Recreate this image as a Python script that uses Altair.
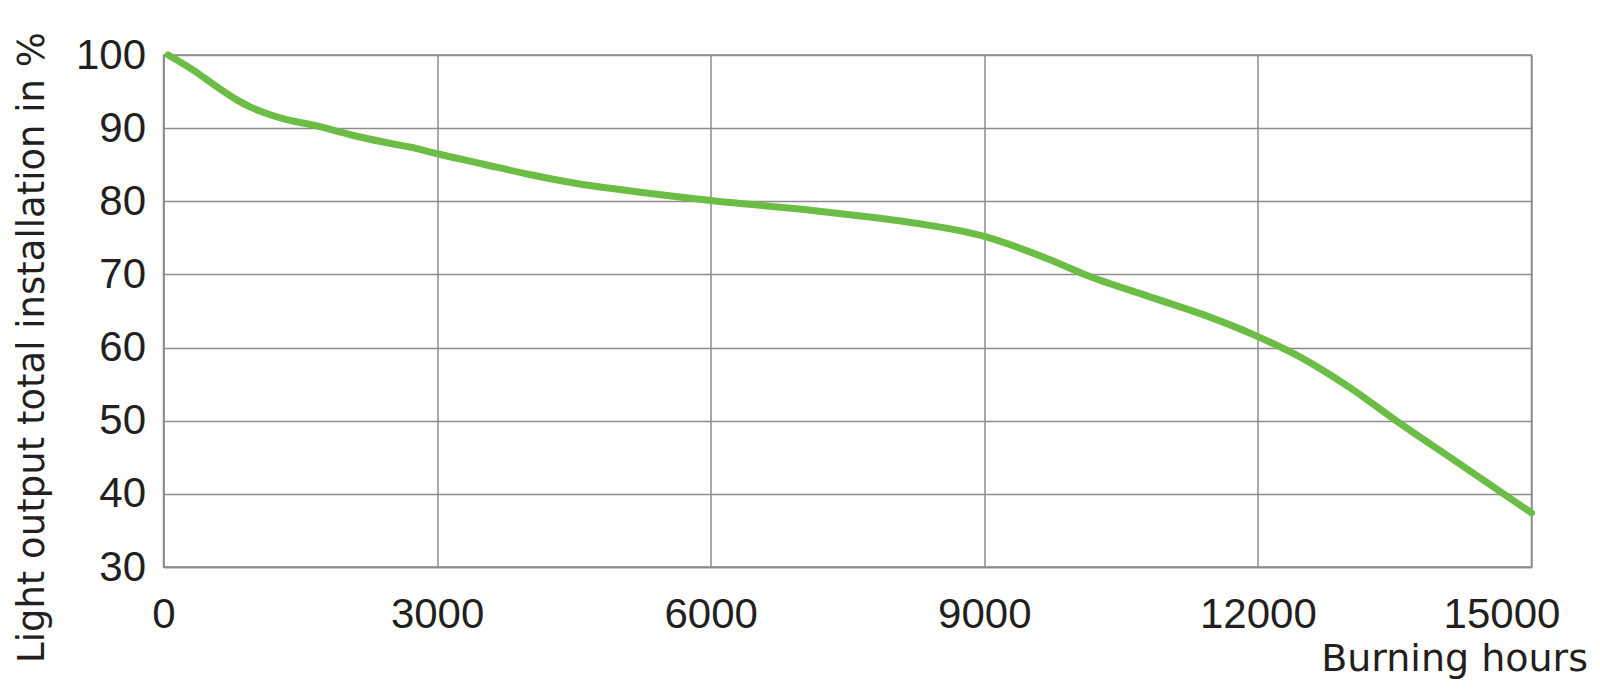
import altair as alt
import pandas as pd

hours = [50, 330, 580, 800, 950, 1130, 1310, 1680, 2050, 2410, 2780, 3000, 3500, 4000, 4500,
         5000, 6000, 7000, 7500, 8250, 9000, 9700, 10100, 10800, 11400, 12000, 12450, 13000,
         13550, 14200, 15000]
light = [100, 97.9, 95.7, 93.9, 92.9, 92.0, 91.3, 90.3, 89.1, 88.1, 87.2, 86.5, 85.1, 83.7,
         82.5, 81.6, 80.1, 78.9, 78.2, 77.0, 75.2, 72.1, 70.0, 67.0, 64.5, 61.5, 58.8, 54.6,
         49.7, 44.2, 37.4]
x_ticks = [0, 3000, 6000, 9000, 12000, 15000]
y_ticks = [30, 40, 50, 60, 70, 80, 90, 100]

df = pd.DataFrame({"hours": hours, "light": light})

TEXT = "#231f20"
GRID = "#8c8c8c"

x_axis = alt.Axis(
    values=x_ticks, format="d", grid=True, gridColor=GRID, gridWidth=1.5,
    domainColor=GRID, domainWidth=1.5, ticks=False, tickSize=0,
    labelFont="Liberation Sans", labelFontSize=42, labelColor=TEXT,
    labelBaseline="top", labelPadding=27, labelFlush=False, labelBound=False,
    labelOverlap=False,
    labelOffset={"condition": {"test": "datum.value == 15000", "value": -30}, "value": 0},
    title="Burning hours", titleFont="DejaVu Sans", titleFontSize=38,
    titleFontWeight="normal", titleColor=TEXT, titleAlign="right",
    titleBaseline="alphabetic", titleX=1424, titleY=103,
)
y_axis = alt.Axis(
    values=y_ticks, format="d", grid=True, gridColor=GRID, gridWidth=1.5,
    domainColor=GRID, domainWidth=1.5, ticks=False, tickSize=0,
    labelFont="Liberation Sans", labelFontSize=42, labelColor=TEXT,
    labelBaseline="middle", labelAlign="right", labelPadding=18,
    labelFlush=False, labelBound=False, labelOverlap=False,
    title="Light output total installation in %", titleFont="DejaVu Sans",
    titleFontSize=37, titleFontWeight="normal", titleColor=TEXT,
    titleAngle=270, titleAlign="center", titleBaseline="alphabetic",
    titleX=-120, titleY=292,
)

chart = alt.Chart(df).mark_line(
    color="#6cbd45", strokeWidth=7, interpolate="monotone", strokeCap="round"
).encode(
    x=alt.X("hours:Q", scale=alt.Scale(domain=[0, 15000], nice=False, zero=False), axis=x_axis),
    y=alt.Y("light:Q", scale=alt.Scale(domain=[30, 100], nice=False, zero=False), axis=y_axis),
).properties(
    width=1368, height=512,
    autosize=alt.AutoSizeParams(type="none"),
    padding={"left": 155.5, "top": 47, "right": 60, "bottom": 121},
    background="white",
).configure_view(stroke=GRID, strokeWidth=1.5)

chart.save("out.html", embed_options={"renderer": "svg", "actions": False})
